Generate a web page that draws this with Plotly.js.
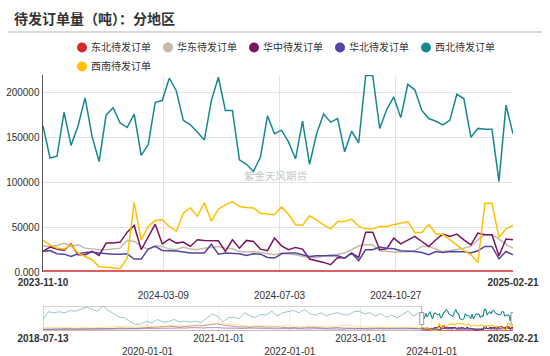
<!DOCTYPE html>
<html><head><meta charset="utf-8">
<script src="https://cdn.plot.ly/plotly-3.0.1.min.js"></script>
<style>html,body{margin:0;padding:0;background:#fff}#chart{width:550px;height:356px}</style>
</head><body><div id="chart"></div>
<script>
// Weekly dates shown in the main window
const dates = ['2023-11-10','2023-11-17','2023-11-24','2023-12-01','2023-12-08','2023-12-15','2023-12-22','2023-12-29',
'2024-01-05','2024-01-12','2024-01-19','2024-01-26','2024-02-02','2024-02-09','2024-02-16','2024-02-23',
'2024-03-01','2024-03-08','2024-03-15','2024-03-22','2024-03-29','2024-04-05','2024-04-12','2024-04-19','2024-04-26',
'2024-05-03','2024-05-10','2024-05-17','2024-05-24','2024-05-31','2024-06-07','2024-06-14','2024-06-21','2024-06-28',
'2024-07-05','2024-07-12','2024-07-19','2024-07-26','2024-08-02','2024-08-09','2024-08-16','2024-08-23','2024-08-30',
'2024-09-06','2024-09-13','2024-09-20','2024-09-27','2024-10-04','2024-10-11','2024-10-18','2024-10-25',
'2024-11-01','2024-11-08','2024-11-15','2024-11-22','2024-11-29','2024-12-06','2024-12-13','2024-12-20','2024-12-27',
'2025-01-03','2025-01-10','2025-01-17','2025-01-24','2025-01-31','2025-02-07','2025-02-14','2025-02-21'];

const northeast = [1000,1000,1000,1000,1000,1000,1000,1000,1000,1000,1000,1000,1000,1000,1000,1000,1000,1000,1000,1000,
1000,1000,1000,1000,1000,1000,1000,1000,1000,1000,1000,1000,1000,1000,1000,1000,1000,1000,1000,1000,
1000,1000,1000,1000,1000,1000,1000,1000,1000,1000,1000,1000,1000,1000,1000,1000,1000,1000,1000,1000,
1000,1000,1000,1000,1000,1000,1000,1000];
const eastChina = [29200,28500,29600,32200,28500,30300,26600,25500,24800,24800,25500,26600,35200,34000,28500,25500,
29200,28500,25500,24800,27800,25500,24800,26600,27400,28500,26600,25900,22900,22200,22900,21800,21100,19200,
21100,20400,19200,17400,16200,16200,18100,19200,19900,21100,24800,29200,30300,30300,23700,22900,22200,22200,
22500,23700,28500,28500,25500,22900,23700,24800,26600,28500,35900,41500,41500,36700,30700,26600];
const centralChina = [22900,27800,25500,24000,31400,19200,19200,22900,18500,32200,32200,33300,44400,51800,24800,38900,
53300,31400,36700,32200,33300,28500,35900,35200,34800,34800,22900,35900,26600,35200,34000,25500,23700,37800,
29200,24800,27400,25500,14400,12600,10700,8100,16200,15500,21100,16200,44400,44400,24800,25900,37800,31400,
35900,39600,34000,28500,35900,42200,39600,42200,35900,30300,43300,41500,41500,18100,36700,35900];
const northChina = [22900,24000,20300,19900,17400,20300,21800,22200,21100,20300,19900,19900,20300,14400,14400,25500,
28500,24000,24000,23300,22200,21100,21100,21100,31000,19900,21100,20300,20300,18500,20300,19900,16200,15500,
20300,21100,21100,19200,17400,18100,18100,18100,18100,15500,21100,12600,24800,24800,27800,26600,26000,23700,
23700,22900,21800,19200,22900,21800,22900,22900,22500,21100,23700,28500,28500,14800,22900,19200];
const northwest = [163000,127000,129000,178000,141000,163000,194000,151000,123000,175000,183000,166000,161000,176000,
130000,142000,189000,191000,216000,202000,169000,164000,156000,147000,191000,217000,180000,180000,125000,120000,
112000,128000,174000,154000,158000,145000,126000,168000,120000,154000,176000,167000,171000,134000,157000,144000,
219000,219000,160000,181000,195000,172000,209000,203000,180000,171000,168000,164000,169000,198000,193000,150000,
160000,159000,159000,101000,186000,154000];
const southwest = [35500,30300,26600,25500,30300,21100,17300,13700,5900,5600,4800,3700,15500,77300,35900,50700,
57300,58300,50700,45500,65500,71600,62100,77000,56700,70000,74800,78400,72900,71900,71300,65500,65000,63700,
72500,64300,52600,52000,62700,58100,52400,48100,56200,56200,58900,51000,47800,47800,50700,50700,52600,54400,
56200,44000,44000,52900,42600,41900,35900,30300,24000,19200,10700,76700,76700,38500,48100,51800];

// Earlier history, read coarsely (every 4 weeks) from the overview slider
const histDates = ['2018-07-13','2018-08-10','2018-09-07','2018-10-05','2018-11-02','2018-11-30','2018-12-28',
'2019-01-25','2019-02-22','2019-03-22','2019-04-19','2019-05-17','2019-06-14','2019-07-12','2019-08-09','2019-09-06',
'2019-10-04','2019-11-01','2019-11-29','2019-12-27','2020-01-24','2020-02-21','2020-03-20','2020-04-17','2020-05-15',
'2020-06-12','2020-07-10','2020-08-07','2020-09-04','2020-10-02','2020-10-30','2020-11-27','2020-12-25','2021-01-22',
'2021-02-19','2021-03-19','2021-04-16','2021-05-14','2021-06-11','2021-07-09','2021-08-06','2021-09-03','2021-10-01',
'2021-10-29','2021-11-26','2021-12-24','2022-01-21','2022-02-18','2022-03-18','2022-04-15','2022-05-13','2022-06-10',
'2022-07-08','2022-08-05','2022-09-02','2022-09-30','2022-10-28','2022-11-25','2022-12-23','2023-01-20','2023-02-17',
'2023-03-17','2023-04-14','2023-05-12','2023-06-09','2023-07-07','2023-08-04','2023-09-01','2023-09-29','2023-10-27'];
const histNortheast = [2000,2000,2000,2000,2000,2000,2000,2000,2000,2000,2000,2000,2000,2000,2000,2000,2000,2000,2000,2000,
2000,2000,2000,2000,2000,2000,2000,2000,2000,2000,2000,2000,2000,2000,2000,2000,2000,2000,2000,2000,
2000,2000,2000,2000,2000,2000,2000,2000,2000,2000,2000,2000,2000,2000,2000,2000,2000,2000,2000,2000,
2000,2000,2000,2000,2000,2000,2000,2000,2000,2000];
const histEastChina = [20000,22000,21000,24000,22000,20000,23000,25000,22000,24000,26000,23000,25000,27000,24000,26000,
28000,25000,27000,30000,26000,28000,31000,29000,32000,30000,33000,35000,32000,34000,36000,33000,35000,30000,28000,
31000,29000,27000,30000,28000,26000,29000,27000,25000,28000,26000,24000,27000,25000,23000,26000,24000,22000,25000,
23000,21000,24000,22000,23000,25000,22000,24000,26000,23000,25000,27000,24000,26000,28000,27000];
const histCentralChina = [18000,20000,22000,19000,21000,24000,22000,20000,25000,23000,26000,24000,28000,25000,30000,32000,
28000,26000,30000,35000,32000,38000,42000,48000,45000,40000,44000,50000,55000,52000,58000,65000,72000,60000,52000,
45000,40000,42000,38000,44000,40000,36000,38000,42000,35000,32000,36000,30000,33000,38000,35000,30000,28000,32000,
35000,30000,28000,32000,30000,26000,28000,32000,30000,27000,25000,28000,30000,27000,25000,24000];
const histNorthChina = [14000,15000,13000,16000,15000,14000,17000,16000,15000,18000,17000,16000,19000,18000,20000,22000,
21000,19000,23000,25000,22000,24000,27000,25000,28000,30000,27000,32000,35000,30000,33000,38000,35000,30000,28000,
32000,29000,26000,30000,27000,25000,28000,24000,22000,25000,23000,21000,24000,22000,20000,23000,21000,19000,22000,
20000,18000,21000,19000,20000,22000,19000,21000,20000,18000,21000,19000,20000,22000,21000,22000];
const histNorthwest = [115000,194000,184000,194000,184000,207000,200000,218000,241000,218000,200000,252000,207000,173000,
139000,133000,92000,65000,71000,99000,82000,116000,92000,92000,116000,92000,99000,92000,99000,85000,130000,173000,
150000,92000,133000,139000,126000,184000,150000,139000,167000,160000,200000,150000,184000,194000,207000,184000,
218000,173000,160000,184000,150000,173000,184000,167000,160000,194000,200000,173000,184000,150000,173000,139000,
160000,133000,167000,200000,150000,184000];
const histSouthwest = [38000,35000,30000,33000,36000,30000,28000,32000,35000,30000,34000,38000,42000,40000,45000,50000,
45000,40000,48000,52000,45000,38000,42000,48000,55000,52000,48000,55000,60000,58000,62000,70000,80000,75000,68000,
60000,55000,52000,48000,50000,45000,48000,52000,46000,50000,55000,48000,45000,42000,48000,50000,46000,42000,45000,
48000,55000,62000,50000,45000,40000,42000,38000,40000,36000,38000,35000,40000,38000,36000,34000];

const seriesNames = ['东北待发订单','华东待发订单','华中待发订单','华北待发订单','西北待发订单','西南待发订单'];
const seriesColors = ['#d7282e','#c6b9a6','#7b135e','#5444a3','#17878f','#ffc000'];
const mainValues = [northeast, eastChina, centralChina, northChina, northwest, southwest];
const histValues = [histNortheast, histEastChina, histCentralChina, histNorthChina, histNorthwest, histSouthwest];

const xTickDates = ['2023-11-10','2024-03-09','2024-07-03','2024-10-27','2025-02-21'];
const xTickText = ['<b>2023-11-10</b>','<br>2024-03-09','<br>2024-07-03','<br>2024-10-27','<b>2025-02-21</b>'];
const yTickVals = [0,50000,100000,150000,200000];
const yTickText = ['0.000','50000','100000','150000','200000'];
const sliderTickDates = ['2018-07-13','2020-01-01','2021-01-01','2022-01-01','2023-01-01','2024-01-01','2025-02-21'];
const sliderTickText = ['<b>2018-07-13</b>','<br>2020-01-01','2021-01-01','<br>2022-01-01','2023-01-01','<br>2024-01-01','<b>2025-02-21</b>'];

const mainMax = 219500;
const sliderMax = Math.max(...histNorthwest, ...northwest);

const traces = [];
// overview (slider) — full history faded
mainValues.forEach((vals, j) => {
  traces.push({type:'scatter', mode:'lines', x: histDates.concat(dates), y: histValues[j].concat(vals),
    xaxis:'x2', yaxis:'y2', line:{color:seriesColors[j], width:1}, opacity:0.45,
    showlegend:false, hoverinfo:'skip'});
});
// overview — selected window in full colour
mainValues.forEach((vals, j) => {
  traces.push({type:'scatter', mode:'lines', x: dates, y: vals,
    xaxis:'x2', yaxis:'y2', line:{color:seriesColors[j], width:1},
    showlegend:false, hoverinfo:'skip'});
});
// main chart
mainValues.forEach((vals, j) => {
  traces.push({type:'scatter', mode:'lines', x: dates, y: vals, name: seriesNames[j],
    legendgroup: seriesNames[j], line:{color:seriesColors[j], width:1.5}, showlegend:false});
});
// legend entries (circle markers)
seriesNames.forEach((nm, j) => {
  traces.push({type:'scatter', mode:'markers', x:[null], y:[null], name:nm, legendgroup:nm,
    marker:{color:seriesColors[j], size:10, symbol:'circle'}, showlegend:true});
});

const L = 43, R = 513, T = 75, B = 331;
const pw = R - L, ph = B - T;
const px = v => (v - L) / pw;
const py = v => (B - v) / ph;

const layout = {
  width:550, height:356,
  margin:{l:L, r:550-R, t:T, b:356-B, autoexpand:false},
  paper_bgcolor:'#ffffff', plot_bgcolor:'#ffffff',
  font:{family:'"Liberation Sans", "Noto Sans CJK SC", sans-serif', size:10, color:'#333'},
  title:{text:'<b>待发订单量（吨）：分地区</b>', x:14/550, xref:'container', xanchor:'left',
    y:1-19/356, yref:'container', yanchor:'middle',
    font:{size:14, color:'#333', family:'"Noto Sans CJK SC", sans-serif'}},
  showlegend:true,
  legend:{orientation:'h', x:px(62), xanchor:'left', y:py(33), yanchor:'top',
    font:{size:10, color:'#333', family:'"Noto Sans CJK SC", sans-serif'},
    entrywidth:41, entrywidthmode:'pixels', itemwidth:30, bgcolor:'rgba(0,0,0,0)', traceorder:'normal'},
  xaxis:{domain:[0,1], anchor:'y', type:'date', range:[dates[0], dates[dates.length-1]],
    tickmode:'array', tickvals:xTickDates, ticktext:xTickText, tickangle:0, ticks:'',
    ticklabelstandoff:3,
    showgrid:true, gridcolor:'#e3e3e3', gridwidth:1, zeroline:false, showline:false, automargin:false,
    tickfont:{size:10, color:'#333'}},
  yaxis:{domain:[py(272), 1], anchor:'x', range:[0, mainMax],
    tickmode:'array', tickvals:yTickVals, ticktext:yTickText, ticks:'',
    showgrid:true, gridcolor:'#e3e3e3', gridwidth:1, zeroline:false,
    showline:true, linecolor:'#555', linewidth:1.5, automargin:false,
    tickfont:{size:10, color:'#333'}},
  xaxis2:{domain:[0,1], anchor:'y2', type:'date', range:[histDates[0], dates[dates.length-1]],
    tickmode:'array', tickvals:sliderTickDates, ticktext:sliderTickText, tickangle:0, ticks:'',
    showgrid:true, gridcolor:'#eeeeee', zeroline:false, showline:false, automargin:false,
    tickfont:{size:10, color:'#333'}},
  yaxis2:{domain:[0, py(306)], anchor:'x2', range:[0, sliderMax],
    showticklabels:false, showgrid:false, zeroline:false, showline:false, ticks:''},
  shapes:[
    {type:'line', xref:'paper', yref:'paper', x0:px(8), x1:px(542), y0:py(32), y1:py(32),
     line:{color:'#cccccc', width:1.5}},
    {type:'rect', xref:'x2', yref:'y2', x0:histDates[0], x1:dates[0], y0:0, y1:sliderMax,
     line:{color:'#aaaaaa', width:1}, fillcolor:'rgba(0,0,0,0)'},
    {type:'rect', xref:'x2', yref:'y2', xsizemode:'pixel', xanchor:dates[0], x0:-2, x1:2,
     ysizemode:'pixel', yanchor:sliderMax/2, y0:-6, y1:6,
     line:{color:'#999999', width:1}, fillcolor:'#ffffff'},
    {type:'rect', xref:'x2', yref:'y2', xsizemode:'pixel', xanchor:dates[dates.length-1], x0:-2, x1:2,
     ysizemode:'pixel', yanchor:sliderMax/2, y0:-6, y1:6,
     line:{color:'#999999', width:1}, fillcolor:'#ffffff'}
  ],
  annotations:[
    {text:'紫金天风期货', xref:'paper', yref:'paper', x:px(275), y:py(175), showarrow:false,
     font:{size:10.5, color:'#c8c8c8', family:'"Noto Sans CJK SC", sans-serif'}}
  ]
};

Plotly.newPlot('chart', traces, layout, {staticPlot:true, displayModeBar:false}).then(gd => {
  // pull legend labels closer to their circle markers, as in the reference
  gd.querySelectorAll('.legendtext').forEach(t => t.setAttribute('x', 29));
  // let the last label run past the computed legend width instead of being clipped
  gd.querySelectorAll('.legend .scrollbox, .legend').forEach(el => el.removeAttribute('clip-path'));
  gd.querySelectorAll('.legend [clip-path]').forEach(el => el.removeAttribute('clip-path'));
});
</script>
</body></html>
